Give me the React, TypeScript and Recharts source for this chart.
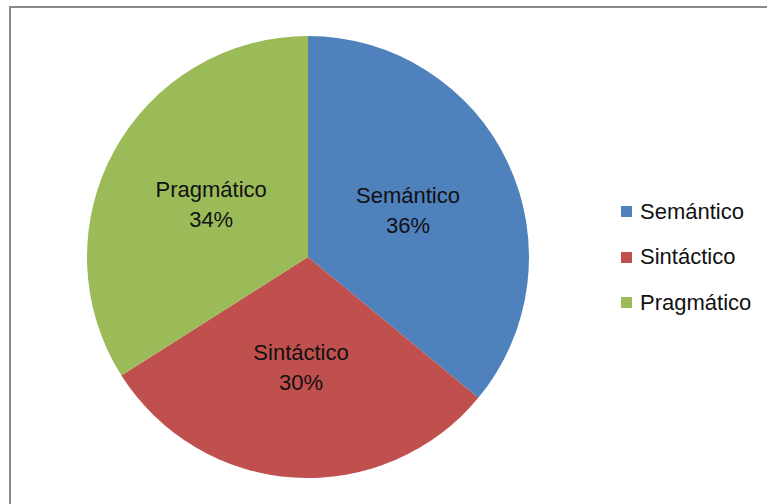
import { PieChart, Pie, Cell, Legend } from 'recharts'

const categories = ['Semántico', 'Sintáctico', 'Pragmático']
const shares = [36, 30, 34]
const colors = ['#4F81BD', '#C0504D', '#9BBB59']

const data = categories.map((name, i) => ({ name, value: shares[i] }))

const RAD = Math.PI / 180
const FONT = '"Liberation Sans", Arial, sans-serif'

function SliceLabel(props: any) {
  const { cx, cy, midAngle, outerRadius, name, percent } = props
  const r = outerRadius * 0.5
  const x = cx + r * Math.cos(-midAngle * RAD)
  const y = cy + r * Math.sin(-midAngle * RAD)
  return (
    <text x={x} y={y} textAnchor="middle" fill="#111" fontSize={22} fontFamily={FONT}>
      <tspan x={x} dy={-7}>{name}</tspan>
      <tspan x={x} dy={30}>{`${Math.round(percent * 100)}%`}</tspan>
    </text>
  )
}

// keep the legend in data order (recharts would sort it otherwise)
function LegendBox() {
  return (
    <div style={{ fontFamily: FONT, fontSize: 22, color: '#111' }}>
      {categories.map((name, i) => (
        <div key={name} style={{ display: 'flex', alignItems: 'center', height: 45.5 }}>
          <span style={{ width: 11, height: 11, background: colors[i], marginRight: 8, display: 'inline-block' }} />
          <span>{name}</span>
        </div>
      ))}
    </div>
  )
}

export default function App() {
  return (
    <div style={{ position: 'fixed', left: 0, top: 0, width: 767, height: 504, background: '#fff', overflow: 'hidden' }}>
      <div
        style={{
          position: 'absolute',
          left: 9,
          top: 6,
          width: 800,
          height: 600,
          borderTop: '2px solid #8a8a8a',
          borderLeft: '2px solid #8a8a8a',
        }}
      />
      <div style={{ position: 'absolute', left: 0, top: 0 }}>
        <PieChart width={767} height={504} margin={{ top: 0, right: 0, bottom: 0, left: 0 }}>
          <Pie
            data={data}
            dataKey="value"
            nameKey="name"
            cx={308}
            cy={257}
            outerRadius={221}
            startAngle={90}
            endAngle={-270}
            stroke="none"
            label={SliceLabel}
            labelLine={false}
            isAnimationActive={false}
          >
            {data.map((d, i) => (
              <Cell key={d.name} fill={colors[i]} />
            ))}
          </Pie>
          <Legend
            layout="vertical"
            content={LegendBox}
            wrapperStyle={{ position: 'absolute', left: 621, top: 189, width: 140 }}
          />
        </PieChart>
      </div>
    </div>
  )
}
